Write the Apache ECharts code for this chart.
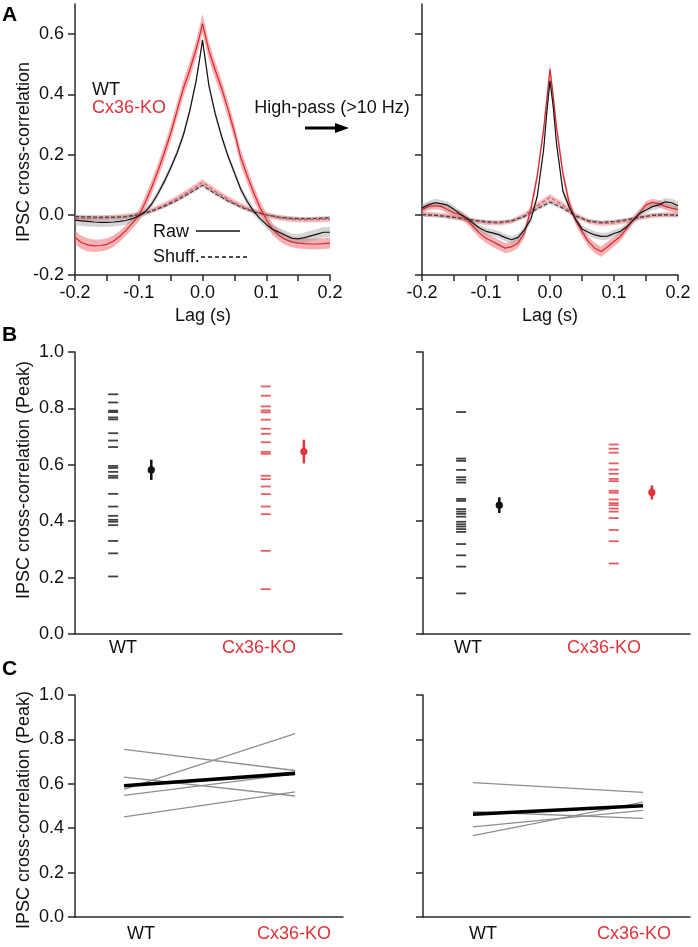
<!DOCTYPE html>
<html><head><meta charset="utf-8">
<script src="https://cdn.jsdelivr.net/npm/echarts@6/dist/echarts.min.js"></script>
<style>html,body{margin:0;padding:0;background:#fff}#c{width:698px;height:947px}</style>
</head><body><div id="c"></div>
<script>
// ---------- DATA ----------
const lagRaw = [-0.2,-0.19,-0.18,-0.17,-0.16,-0.15,-0.14,-0.13,-0.12,-0.11,-0.1,-0.09,-0.08,-0.07,-0.06,-0.05,-0.04,-0.03,-0.02,-0.01,-0.005,0,0.005,0.01,0.02,0.03,0.04,0.05,0.06,0.07,0.08,0.09,0.1,0.11,0.12,0.13,0.14,0.15,0.16,0.17,0.18,0.19,0.2];
const lagShuf = [-0.2,-0.18,-0.16,-0.14,-0.12,-0.1,-0.08,-0.06,-0.04,-0.02,0,0.02,0.04,0.06,0.08,0.1,0.12,0.14,0.16,0.18,0.2];

// Panel A left (raw)
const rawL_wt = [-0.018,-0.020,-0.022,-0.024,-0.025,-0.025,-0.024,-0.022,-0.019,-0.013,-0.004,0.010,0.035,0.070,0.110,0.155,0.205,0.265,0.345,0.445,0.510,0.580,0.505,0.430,0.335,0.260,0.195,0.140,0.085,0.045,0.012,-0.012,-0.032,-0.048,-0.058,-0.068,-0.078,-0.080,-0.076,-0.070,-0.064,-0.058,-0.058];
const semL_wt = [0.017,0.017,0.017,0.016,0.016,0.016,0.015,0.015,0.014,0.013,0.012,0.012,0.012,0.012,0.012,0.012,0.012,0.012,0.012,0.012,0.012,0.012,0.012,0.012,0.012,0.012,0.012,0.012,0.012,0.012,0.012,0.012,0.013,0.014,0.015,0.015,0.016,0.016,0.017,0.017,0.017,0.017,0.017];
const rawL_ko = [-0.075,-0.092,-0.100,-0.103,-0.102,-0.098,-0.088,-0.072,-0.052,-0.028,-0.003,0.040,0.090,0.145,0.205,0.270,0.345,0.420,0.480,0.550,0.590,0.635,0.590,0.545,0.480,0.420,0.350,0.275,0.190,0.130,0.075,0.025,-0.015,-0.048,-0.068,-0.082,-0.090,-0.094,-0.096,-0.097,-0.097,-0.096,-0.094];
const semL_ko = [0.022,0.022,0.022,0.021,0.020,0.020,0.019,0.018,0.018,0.018,0.020,0.022,0.024,0.025,0.026,0.027,0.028,0.028,0.029,0.030,0.031,0.032,0.031,0.030,0.029,0.028,0.028,0.027,0.026,0.025,0.024,0.022,0.020,0.019,0.018,0.018,0.018,0.018,0.018,0.018,0.018,0.018,0.018];
// Panel A left (shuffled)
const shufL_wt = [-0.006,-0.007,-0.008,-0.008,-0.006,0.000,0.012,0.028,0.048,0.072,0.098,0.070,0.046,0.026,0.010,0.000,-0.008,-0.012,-0.013,-0.012,-0.010];
const semShufL_wt = [0.006,0.006,0.006,0.006,0.006,0.006,0.006,0.006,0.006,0.007,0.007,0.007,0.006,0.006,0.006,0.006,0.006,0.006,0.006,0.006,0.006];
const shufL_ko = [-0.012,-0.012,-0.011,-0.009,-0.006,0.000,0.014,0.032,0.054,0.080,0.108,0.078,0.052,0.030,0.012,0.000,-0.010,-0.015,-0.017,-0.016,-0.015];
const semShufL_ko = [0.009,0.009,0.009,0.009,0.009,0.009,0.009,0.009,0.010,0.010,0.011,0.010,0.010,0.009,0.009,0.009,0.009,0.009,0.009,0.009,0.009];

// Panel A right (high-pass, raw)
const rawR_wt = [0.022,0.033,0.040,0.037,0.032,0.018,0.002,-0.011,-0.028,-0.044,-0.055,-0.060,-0.066,-0.076,-0.083,-0.075,-0.050,-0.015,0.060,0.215,0.340,0.445,0.360,0.240,0.080,0.025,-0.015,-0.047,-0.058,-0.067,-0.072,-0.071,-0.062,-0.055,-0.040,-0.018,0.004,0.016,0.027,0.033,0.043,0.040,0.030];
const semR_wt = [0.013,0.013,0.013,0.012,0.012,0.012,0.011,0.011,0.011,0.011,0.012,0.012,0.012,0.012,0.012,0.012,0.012,0.012,0.012,0.012,0.013,0.013,0.013,0.012,0.012,0.012,0.012,0.012,0.012,0.012,0.012,0.012,0.012,0.012,0.012,0.011,0.011,0.012,0.012,0.013,0.013,0.013,0.013];
const rawR_ko = [0.017,0.028,0.030,0.028,0.017,0.006,0.000,-0.017,-0.039,-0.061,-0.078,-0.089,-0.100,-0.111,-0.106,-0.094,-0.061,0.017,0.128,0.283,0.383,0.483,0.394,0.294,0.139,0.039,-0.017,-0.056,-0.089,-0.111,-0.122,-0.106,-0.089,-0.072,-0.044,-0.017,0.006,0.033,0.041,0.037,0.028,0.022,0.017];
const semR_ko = [0.012,0.012,0.012,0.012,0.012,0.012,0.013,0.014,0.015,0.016,0.016,0.017,0.017,0.017,0.017,0.016,0.016,0.017,0.019,0.021,0.022,0.023,0.022,0.021,0.019,0.017,0.016,0.016,0.017,0.017,0.017,0.017,0.016,0.015,0.014,0.013,0.012,0.012,0.012,0.012,0.012,0.012,0.012];
// Panel A right (shuffled)
const shufR_wt = [0.000,-0.002,-0.006,-0.012,-0.018,-0.023,-0.025,-0.020,-0.006,0.020,0.042,0.022,-0.004,-0.020,-0.025,-0.022,-0.016,-0.008,-0.002,0.000,-0.002];
const semShufR_wt = [0.006,0.006,0.006,0.006,0.006,0.006,0.006,0.006,0.006,0.007,0.007,0.007,0.006,0.006,0.006,0.006,0.006,0.006,0.006,0.006,0.006];
const shufR_ko = [0.002,0.000,-0.004,-0.012,-0.020,-0.026,-0.028,-0.022,-0.002,0.030,0.058,0.032,-0.002,-0.022,-0.029,-0.027,-0.020,-0.010,-0.002,0.000,0.000];
const semShufR_ko = [0.008,0.008,0.008,0.008,0.008,0.008,0.008,0.008,0.009,0.010,0.011,0.010,0.009,0.008,0.008,0.008,0.008,0.008,0.008,0.008,0.008];

// Panel B: individual peak values
const peakB_left_wt = [0.850,0.821,0.792,0.787,0.768,0.761,0.712,0.686,0.663,0.596,0.589,0.575,0.561,0.554,0.497,0.452,0.419,0.405,0.398,0.386,0.330,0.286,0.204];
const peakB_left_ko = [0.878,0.845,0.807,0.793,0.786,0.760,0.728,0.710,0.680,0.646,0.639,0.561,0.549,0.523,0.496,0.452,0.425,0.295,0.159];
const peakB_right_wt = [0.787,0.622,0.614,0.582,0.556,0.547,0.537,0.479,0.472,0.443,0.434,0.426,0.416,0.398,0.389,0.381,0.372,0.362,0.319,0.279,0.239,0.144];
const peakB_right_ko = [0.672,0.657,0.643,0.605,0.583,0.568,0.550,0.542,0.508,0.501,0.477,0.464,0.457,0.445,0.434,0.411,0.369,0.329,0.250];
// Panel B: mean and SEM [WT, Cx36-KO]
const meanB_left = [0.582, 0.647];
const semB_left = [0.036, 0.042];
const meanB_right = [0.457, 0.502];
const semB_right = [0.028, 0.025];

// Panel C: paired values (WT, Cx36-KO)
const pairC_left_wt = [0.755, 0.630, 0.575, 0.548, 0.451];
const pairC_left_ko = [0.660, 0.545, 0.826, 0.645, 0.564];
const meanC_left = [0.591, 0.647];
const pairC_right_wt = [0.605, 0.474, 0.406, 0.367];
const pairC_right_ko = [0.561, 0.444, 0.480, 0.517];
const meanC_right = [0.463, 0.501];

const groups = ['WT', 'Cx36-KO'];
const lagTicks = [-0.2,-0.15,-0.1,-0.05,0,0.05,0.1,0.15,0.2];
const lagLabels = [-0.2,-0.1,0,0.1,0.2];
const corrTicksA = [-0.2,0,0.2,0.4,0.6];
const peakTicks = [0,0.2,0.4,0.6,0.8,1.0];

// ---------- STYLE ----------
const FONT = "'Liberation Sans', Arial, Helvetica, sans-serif";
const AX = '#2a2a2a';
const RED = '#e0343a';
const fmt1 = v => Number(v).toFixed(1);

function xAx(gi, min, max, ticks, labels) {
  return {
    type: 'value', gridIndex: gi, min: min, max: max, position: 'bottom',
    axisLine: {show: true, onZero: false, lineStyle: {color: AX, width: 1.5}},
    axisTick: ticks ? {show: true, customValues: ticks, length: 6, lineStyle: {color: AX, width: 1.5}} : {show: false},
    axisLabel: labels ? {show: true, customValues: labels, formatter: fmt1, fontSize: 18, color: '#111', fontFamily: FONT, margin: 9} : {show: false},
    splitLine: {show: false}
  };
}
function yAx(gi, min, max, ticks, labels) {
  return {
    type: 'value', gridIndex: gi, min: min, max: max, position: 'left',
    axisLine: {show: true, onZero: false, lineStyle: {color: AX, width: 1.5}},
    axisTick: {show: true, customValues: ticks, length: 7, lineStyle: {color: AX, width: 1.5}},
    axisLabel: labels ? {show: true, customValues: labels, formatter: fmt1, fontSize: 18, color: '#111', fontFamily: FONT, margin: 11} : {show: false},
    splitLine: {show: false}
  };
}

function band(ai, xs, mid, sem, fill) {
  return {
    type: 'custom', xAxisIndex: ai, yAxisIndex: ai, silent: true, clip: true, z: 1,
    data: xs.map((x, i) => [x, mid[i]]),
    encode: {x: 0, y: 1},
    renderItem: function (params, api) {
      if (params.dataIndex !== 0) return null;
      const pts = [];
      for (let i = 0; i < xs.length; i++) pts.push(api.coord([xs[i], mid[i] + sem[i]]));
      for (let i = xs.length - 1; i >= 0; i--) pts.push(api.coord([xs[i], mid[i] - sem[i]]));
      return {type: 'polygon', shape: {points: pts}, style: {fill: fill, stroke: null}};
    }
  };
}
function curve(ai, xs, ys, color, width, dashed) {
  return {
    type: 'line', xAxisIndex: ai, yAxisIndex: ai, silent: true, z: 3,
    data: xs.map((x, i) => [x, ys[i]]), symbol: 'none', smooth: false,
    lineStyle: {color: color, width: width, type: dashed ? [4, 2] : 'solid'}
  };
}
function ticksSeries(ai, xPos, vals, color) {
  return {
    type: 'scatter', xAxisIndex: ai, yAxisIndex: ai, silent: true,
    data: vals.map(v => [xPos, v]), symbol: 'rect', symbolSize: [10, 1.8],
    itemStyle: {color: color}
  };
}
function meanErr(ai, xPos, mean, sem, color) {
  return {
    type: 'custom', xAxisIndex: ai, yAxisIndex: ai, silent: true, z: 4,
    data: [[xPos, mean, mean - sem, mean + sem]],
    encode: {x: 0, y: [1, 2, 3]},
    renderItem: function (params, api) {
      const c = api.coord([api.value(0), api.value(1)]);
      const lo = api.coord([api.value(0), api.value(2)]);
      const hi = api.coord([api.value(0), api.value(3)]);
      return {type: 'group', children: [
        {type: 'line', shape: {x1: lo[0], y1: lo[1], x2: hi[0], y2: hi[1]}, style: {stroke: color, lineWidth: 2.5}},
        {type: 'circle', shape: {cx: c[0], cy: c[1], r: 3.6}, style: {fill: color}}
      ]};
    }
  };
}
function pairLine(ai, a, b, color, width, z) {
  return {
    type: 'line', xAxisIndex: ai, yAxisIndex: ai, silent: true, z: z,
    data: [[0, a], [1, b]], symbol: 'none',
    lineStyle: {color: color, width: width}
  };
}

const series = [];
// A left
series.push(band(0, lagShuf, shufL_ko, semShufL_ko, 'rgba(236,110,115,0.45)'));
series.push(band(0, lagShuf, shufL_wt, semShufL_wt, 'rgba(150,150,150,0.35)'));
series.push(band(0, lagRaw, rawL_ko, semL_ko, 'rgba(236,100,105,0.5)'));
series.push(band(0, lagRaw, rawL_wt, semL_wt, 'rgba(150,150,150,0.4)'));
series.push(curve(0, lagShuf, shufL_ko, 'rgba(225,80,90,0.9)', 1.2, true));
series.push(curve(0, lagShuf, shufL_wt, '#444', 1.2, true));
series.push(curve(0, lagRaw, rawL_ko, '#d8282e', 1.2, false));
series.push(curve(0, lagRaw, rawL_wt, '#111', 1.2, false));
// A right
series.push(band(1, lagShuf, shufR_ko, semShufR_ko, 'rgba(236,110,115,0.45)'));
series.push(band(1, lagShuf, shufR_wt, semShufR_wt, 'rgba(150,150,150,0.35)'));
series.push(band(1, lagRaw, rawR_ko, semR_ko, 'rgba(236,100,105,0.5)'));
series.push(band(1, lagRaw, rawR_wt, semR_wt, 'rgba(150,150,150,0.4)'));
series.push(curve(1, lagShuf, shufR_ko, 'rgba(225,80,90,0.9)', 1.2, true));
series.push(curve(1, lagShuf, shufR_wt, '#444', 1.2, true));
series.push(curve(1, lagRaw, rawR_ko, '#d8282e', 1.2, false));
series.push(curve(1, lagRaw, rawR_wt, '#111', 1.2, false));
// B
series.push(ticksSeries(2, 1, peakB_left_wt, '#111'));
series.push(ticksSeries(2, 5, peakB_left_ko, RED));
series.push(meanErr(2, 2, meanB_left[0], semB_left[0], '#111'));
series.push(meanErr(2, 6, meanB_left[1], semB_left[1], RED));
series.push(ticksSeries(3, 1, peakB_right_wt, '#111'));
series.push(ticksSeries(3, 5, peakB_right_ko, RED));
series.push(meanErr(3, 2, meanB_right[0], semB_right[0], '#111'));
series.push(meanErr(3, 6, meanB_right[1], semB_right[1], RED));
// C
pairC_left_wt.forEach((v, i) => series.push(pairLine(4, v, pairC_left_ko[i], '#8e8e8e', 1.3, 2)));
series.push(pairLine(4, meanC_left[0], meanC_left[1], '#000', 3.6, 3));
pairC_right_wt.forEach((v, i) => series.push(pairLine(5, v, pairC_right_ko[i], '#8e8e8e', 1.3, 2)));
series.push(pairLine(5, meanC_right[0], meanC_right[1], '#000', 3.6, 3));

function txt(x, y, s, opt) {
  opt = opt || {};
  return {
    type: 'text', x: x, y: y, rotation: opt.rot || 0, z: 10, silent: true,
    style: {
      text: s, font: (opt.bold ? 'bold ' : '') + (opt.size || 18) + 'px ' + FONT,
      fill: opt.color || '#111',
      align: opt.align || 'left', textAlign: opt.align || 'left',
      verticalAlign: 'middle', textVerticalAlign: 'middle'
    }
  };
}

const graphic = [
  txt(2, 15, 'A', {bold: true, size: 21, color: '#000'}),
  txt(2, 335, 'B', {bold: true, size: 21, color: '#000'}),
  txt(2, 669, 'C', {bold: true, size: 21, color: '#000'}),
  txt(24, 152, 'IPSC cross-correlation', {align: 'center', rot: Math.PI / 2}),
  txt(24, 480, 'IPSC cross-correlation (Peak)', {align: 'center', rot: Math.PI / 2}),
  txt(24, 810, 'IPSC cross-correlation (Peak)', {align: 'center', rot: Math.PI / 2}),
  txt(203, 316, 'Lag (s)', {align: 'center'}),
  txt(550, 316, 'Lag (s)', {align: 'center'}),
  txt(92, 90, groups[0], {color: '#111'}),
  txt(92, 108, groups[1], {color: RED}),
  txt(332, 108, 'High-pass (>10 Hz)', {align: 'center'}),
  {type: 'line', silent: true, shape: {x1: 305, y1: 128, x2: 338, y2: 128}, style: {stroke: '#000', lineWidth: 3}},
  {type: 'polygon', silent: true, shape: {points: [[335, 123], [349, 128], [335, 133]]}, style: {fill: '#000'}},
  txt(153, 232, 'Raw'),
  {type: 'line', silent: true, shape: {x1: 196, y1: 231, x2: 240, y2: 231}, style: {stroke: '#111', lineWidth: 1.4}},
  txt(153, 257, 'Shuff.'),
  {type: 'line', silent: true, shape: {x1: 201, y1: 257, x2: 247, y2: 257}, style: {stroke: '#111', lineWidth: 1.3, lineDash: [4, 3]}},
  txt(123, 648, groups[0], {align: 'center'}),
  txt(259, 648, groups[1], {align: 'center', color: RED}),
  txt(468, 648, groups[0], {align: 'center'}),
  txt(604, 648, groups[1], {align: 'center', color: RED}),
  txt(141, 934, groups[0], {align: 'center'}),
  txt(294, 934, groups[1], {align: 'center', color: RED}),
  txt(483, 934, groups[0], {align: 'center'}),
  txt(634, 934, groups[1], {align: 'center', color: RED})
];

const option = {
  animation: false,
  backgroundColor: '#fff',
  textStyle: {fontFamily: FONT},
  grid: [
    {left: 75, top: 4, width: 255, height: 271, containLabel: false, outerBoundsMode: 'none'},
    {left: 422, top: 4, width: 256, height: 271, containLabel: false, outerBoundsMode: 'none'},
    {left: 75, top: 352, width: 267, height: 282, containLabel: false, outerBoundsMode: 'none'},
    {left: 423, top: 352, width: 267, height: 282, containLabel: false, outerBoundsMode: 'none'},
    {left: 75, top: 695, width: 268, height: 222, containLabel: false, outerBoundsMode: 'none'},
    {left: 423, top: 695, width: 267, height: 222, containLabel: false, outerBoundsMode: 'none'}
  ],
  xAxis: [
    xAx(0, -0.2, 0.2, lagTicks, lagLabels),
    xAx(1, -0.2, 0.2, lagTicks, lagLabels),
    xAx(2, 0, 7, null, null),
    xAx(3, 0, 7, null, null),
    xAx(4, -0.287, 1.28, null, null),
    xAx(5, -0.294, 1.276, null, null)
  ],
  yAxis: [
    yAx(0, -0.2, 0.7, corrTicksA, corrTicksA),
    yAx(1, -0.2, 0.7, corrTicksA, null),
    yAx(2, 0, 1, peakTicks, peakTicks),
    yAx(3, 0, 1, peakTicks, null),
    yAx(4, 0, 1, peakTicks, peakTicks),
    yAx(5, 0, 1, peakTicks, null)
  ],
  series: series,
  graphic: graphic
};

const chart = echarts.init(document.getElementById('c'), null, {renderer: 'canvas', width: 698, height: 947});
chart.setOption(option);
</script></body></html>
